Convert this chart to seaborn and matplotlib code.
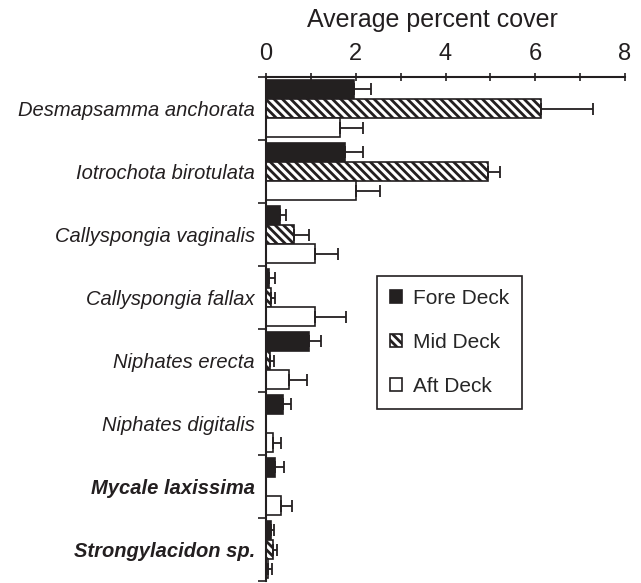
import matplotlib
matplotlib.use("Agg")
import matplotlib.pyplot as plt
import numpy as np
import pandas as pd
import seaborn as sns

species = ["Desmapsamma anchorata", "Iotrochota birotulata", "Callyspongia vaginalis",
           "Callyspongia fallax", "Niphates erecta", "Niphates digitalis",
           "Mycale laxissima", "Strongylacidon sp."]
decks = ["Fore Deck", "Mid Deck", "Aft Deck"]

fore = [1.97, 1.77, 0.32, 0.07, 0.96, 0.38, 0.20, 0.12]
fore_err = [0.36, 0.39, 0.12, 0.13, 0.27, 0.17, 0.20, 0.05]
mid = [6.13, 4.94, 0.63, 0.11, 0.09, 0.0, 0.0, 0.15]
mid_err = [1.16, 0.28, 0.33, 0.09, 0.09, 0.0, 0.0, 0.10]
aft = [1.64, 2.00, 1.10, 1.10, 0.51, 0.15, 0.33, 0.05]
aft_err = [0.52, 0.55, 0.51, 0.68, 0.40, 0.18, 0.25, 0.08]

x_ticks = [0, 2, 4, 6, 8]

sns.set_style("ticks")
plt.rcParams["font.family"] = ["Liberation Sans", "DejaVu Sans"]
plt.rcParams["hatch.linewidth"] = 2.0

dark = "#231f20"

df = pd.DataFrame({
    "species": species * 3,
    "deck": [d for d in decks for _ in species],
    "cover": fore + mid + aft,
})

fig = plt.figure(figsize=(6.41, 5.83), dpi=100)
ax = fig.add_axes([266 / 641, 2 / 583, (625 - 266) / 641, (581 - 77) / 583])

sns.barplot(data=df, y="species", x="cover", hue="deck", orient="h",
            palette=[dark, "white", "white"], width=0.92, errorbar=None,
            edgecolor=dark, linewidth=1.2, legend=False, ax=ax)

# hatch the mid deck bars
for p in ax.containers[1].patches:
    p.set_hatch("\\\\\\\\")
    p.set_edgecolor(dark)

# one-sided error bars
for cont, vals, errs in zip(ax.containers, [fore, mid, aft], [fore_err, mid_err, aft_err]):
    for p, v, e in zip(cont.patches, vals, errs):
        if e <= 0:
            continue
        yc = p.get_y() + p.get_height() / 2
        ax.errorbar(v, yc, xerr=[[0], [e]], fmt="none", ecolor=dark,
                    elinewidth=1.3, capsize=4.5, capthick=1.3)

ax.set_xlim(0, 8)
ax.set_ylim(7.5, -0.5)
ax.xaxis.tick_top()
ax.set_xticks(x_ticks)
ax.set_xticks([1, 3, 5, 7], minor=True)
ax.tick_params(axis="x", which="both", direction="inout", length=6, width=1.2,
               labelsize=17, pad=6, colors=dark)
ax.set_yticks(range(len(species)))
ax.set_yticks(np.arange(-0.5, len(species), 1.0), minor=True)
ax.tick_params(axis="y", which="major", length=0, pad=8)
ax.tick_params(axis="y", which="minor", direction="out", length=6, width=1.2, color=dark)
ax.set_yticklabels(species)
for i, lab in enumerate(ax.get_yticklabels()):
    lab.set_fontsize(14.5)
    lab.set_style("italic")
    lab.set_color(dark)
    if i >= 6:
        lab.set_fontweight("bold")

ax.set_xlabel("")
ax.set_ylabel("")
for s in ["right", "bottom"]:
    ax.spines[s].set_visible(False)
for s in ["top", "left"]:
    ax.spines[s].set_linewidth(1.5)
    ax.spines[s].set_color(dark)

fig.text(432 / 641, 1 - 20 / 583, "Average percent cover", fontsize=18,
         ha="center", va="center", color=dark)

leg = ax.legend(handles=list(ax.containers), labels=decks, loc="upper left",
                bbox_to_anchor=(377 / 641, 1 - 276 / 583), bbox_transform=fig.transFigure,
                borderaxespad=0, fontsize=15, handlelength=0.6, handleheight=0.6,
                handletextpad=0.5, labelspacing=1.2, borderpad=0.62,
                fancybox=False, frameon=True, framealpha=1)
leg.get_frame().set_edgecolor(dark)
leg.get_frame().set_linewidth(1.2)

fig.savefig("out.png", dpi=100)
